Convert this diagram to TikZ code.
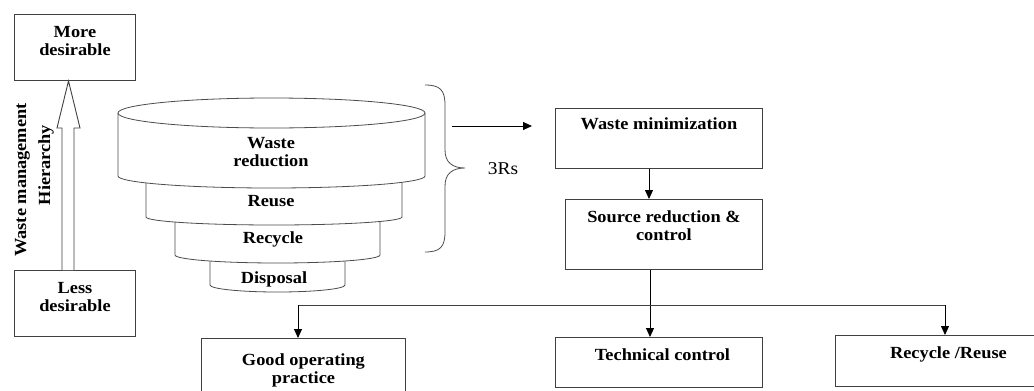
\documentclass[tikz,border=0pt]{standalone}
\usepackage{fontspec}
\setmainfont{Liberation Serif}[FakeStretch=1.08]
\usetikzlibrary{arrows.meta,calc}
\newcommand{\bxt}[4]{\parbox[c][#2][t]{#1}{\centering\rule{0pt}{#3}#4}}
\tikzset{
  box/.style={draw=black!75, line width=0.9pt, inner sep=0pt, anchor=north west,
    font=\fontsize{17pt}{18pt}\selectfont\bfseries},
  lbl/.style={inner sep=0pt, anchor=base, font=\fontsize{17pt}{18pt}\selectfont\bfseries},
  arr/.style={black, line width=0.9pt, -{Triangle[length=9pt,width=8pt]}},
  ln/.style={black!75, line width=0.9pt},
  tierline/.style={black!70, line width=0.8pt},
}
\begin{document}
\begin{tikzpicture}[x=1pt,y=1pt]
\clip (0,0) rectangle (1034,-391);
\fill[white] (0,0) rectangle (1034,-391);

% left hierarchy
\node[box] (more) at (14,-14) {\bxt{121pt}{66pt}{23pt}{More\\desirable}};
\node[box] (less) at (14,-270) {\bxt{121pt}{66pt}{23pt}{Less\\desirable}};
\draw[ln, fill=white] (62,-270) -- (62,-128) -- (57,-128) -- (68.5,-81) -- (80,-128) -- (74,-128) -- (74,-270);
\node[lbl, rotate=90] (h1) at (26,-180) {Waste management};
\node[lbl, rotate=90] (h2) at (50,-165) {Hierarchy};

% cylinder tiers (bottom up)
\fill[white] (210,-250) -- (210,-285) arc[start angle=180,end angle=360,x radius=67.5pt,y radius=7pt] -- (345,-250) -- cycle;
\draw[tierline] (210,-250) -- (210,-285) arc[start angle=180,end angle=360,x radius=67.5pt,y radius=7pt] -- (345,-250);
\fill[white] (175,-210) -- (175,-255) arc[start angle=180,end angle=360,x radius=102.5pt,y radius=8pt] -- (380,-210) -- cycle;
\draw[tierline] (175,-210) -- (175,-255) arc[start angle=180,end angle=360,x radius=102.5pt,y radius=8pt] -- (380,-210);
\fill[white] (146,-170) -- (146,-217) arc[start angle=180,end angle=360,x radius=128pt,y radius=8pt] -- (402,-170) -- cycle;
\draw[tierline] (146,-170) -- (146,-217) arc[start angle=180,end angle=360,x radius=128pt,y radius=8pt] -- (402,-170);
\fill[white] (118,-113) -- (118,-176) arc[start angle=180,end angle=360,x radius=153.5pt,y radius=12pt] -- (425,-113) -- cycle;
\draw[tierline] (118,-113) -- (118,-176) arc[start angle=180,end angle=360,x radius=153.5pt,y radius=12pt] -- (425,-113);
\draw[tierline, fill=white] (271.5,-113) ellipse[x radius=153.5pt, y radius=15pt];

\node[lbl] (wr) at (271,-148) {\parbox[t]{120pt}{\centering Waste\\reduction}};
\node[lbl] (reuse) at (271,-206) {Reuse};
\node[lbl] (recycle) at (273,-243) {Recycle};
\node[lbl] (disposal) at (274,-283) {Disposal};

% brace
\draw[black!70, line width=0.8pt] (425,-85) .. controls (440,-85) and (445,-90) .. (445,-105) -- (445,-150)
  .. controls (445,-162) and (452,-168) .. (465,-168)
  .. controls (452,-168) and (445,-174) .. (445,-186) -- (445,-232)
  .. controls (445,-247) and (440,-252) .. (425,-252);
\node[inner sep=0pt, anchor=base, font=\fontsize{18pt}{20pt}\selectfont] (r3) at (503,-174) {3Rs};
\coordinate (ba) at (452,-126);
\coordinate (bb) at (532,-126);
\draw[arr] (ba) -- (bb);

% right flow
\node[box] (wm) at (555,-108) {\bxt{207pt}{60pt}{21pt}{Waste minimization}};
\node[box] (src) at (565,-199) {\bxt{197pt}{70pt}{23pt}{Source reduction \&\\control}};
\coordinate (c1) at (649,0);
\draw[arr] (wm.south -| c1) -- (src.north -| c1);

\node[box] (good) at (201,-338) {\bxt{204pt}{62pt}{27pt}{Good operating\\practice}};
\node[box] (tech) at (555,-337) {\bxt{207pt}{50pt}{23pt}{\hspace*{7pt}Technical control}};
\node[box] (rec) at (835,-335) {\bxt{226pt}{51pt}{23pt}{Recycle /Reuse}};

\coordinate (j) at (650,-305);
\coordinate (gx) at (298,-305);
\coordinate (rx) at (945,-305);
\draw[arr] (src.south -| j) -- (tech.north -| j);
\draw[ln] (gx) -- (rx);
\draw[arr] (gx) -- (gx |- good.north);
\draw[arr] (rx) -- (rx |- rec.north);
\end{tikzpicture}
\end{document}
